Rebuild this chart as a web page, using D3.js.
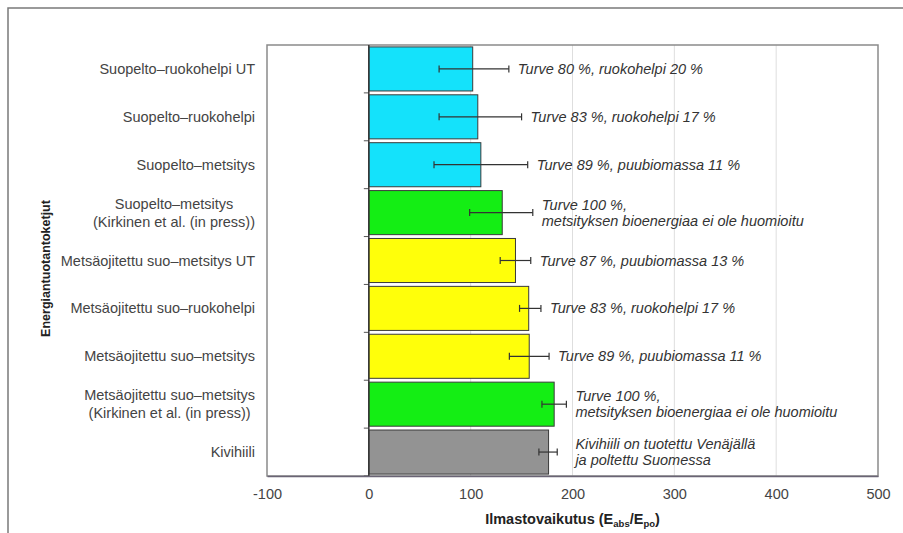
<!DOCTYPE html>
<html>
<head>
<meta charset="utf-8">
<script src="https://cdn.jsdelivr.net/npm/d3@7"></script>
<style>
  html, body { margin: 0; padding: 0; background: #fff; }
  svg { display: block; font-family: "Liberation Sans", Arial, sans-serif; }
</style>
</head>
<body>
<svg id="chart" width="903" height="533"></svg>
<script>
// Energy production chains and their climate impact (E_abs / E_po)
const categories = [
  "Suopelto–ruokohelpi UT",
  "Suopelto–ruokohelpi",
  "Suopelto–metsitys",
  "Suopelto–metsitys\n(Kirkinen et al. (in press))",
  "Metsäojitettu suo–metsitys UT",
  "Metsäojitettu suo–ruokohelpi",
  "Metsäojitettu suo–metsitys",
  "Metsäojitettu suo–metsitys\n(Kirkinen et al. (in press))",
  "Kivihiili"
];
const values   = [102, 107, 110, 131, 144, 157, 157.5, 182, 176.5];
const errLow   = [69, 69, 64, 99, 129, 148, 138, 170, 167];
const errHigh  = [137.5, 150, 156, 161, 159, 169, 177, 194, 185];
const groups   = ["suopelto", "suopelto", "suopelto", "kirkinen",
                  "metsaojitettu", "metsaojitettu", "metsaojitettu", "kirkinen", "kivihiili"];
const notes = [
  "Turve 80 %, ruokohelpi 20 %",
  "Turve 83 %, ruokohelpi 17 %",
  "Turve 89 %, puubiomassa 11 %",
  "Turve 100 %,\nmetsityksen bioenergiaa ei ole huomioitu",
  "Turve 87 %, puubiomassa 13 %",
  "Turve 83 %, ruokohelpi 17 %",
  "Turve 89 %, puubiomassa 11 %",
  "Turve 100 %,\nmetsityksen bioenergiaa ei ole huomioitu",
  "Kivihiili on tuotettu Venäjällä\nja poltettu Suomessa"
];
const xTicks = [-100, 0, 100, 200, 300, 400, 500];

const groupColor = {
  suopelto: "#14e2fb",
  kirkinen: "#14ee14",
  metsaojitettu: "#ffff0a",
  kivihiili: "#939393"
};

const FS = 14.5;
const svg = d3.select("#chart");
const plot = { left: 267, right: 878, top: 45, bottom: 476 };

// outer frame
svg.append("path")
  .attr("d", `M8,533 V8 H903`)
  .attr("fill", "none").attr("stroke", "#7a7a7a").attr("stroke-width", 1.5);

const x = d3.scaleLinear().domain([-100, 500]).range([plot.left, plot.right]);
const y = d3.scaleBand().domain(d3.range(categories.length))
  .range([plot.top, plot.bottom]).paddingInner(0.08).paddingOuter(0.04);
const yb = d3.scaleBand().domain(d3.range(categories.length)).range([plot.top, plot.bottom]);

// gridlines
svg.append("g").selectAll("line")
  .data(xTicks.filter(t => t > 0 && t < 500))
  .join("line")
  .attr("x1", d => x(d)).attr("x2", d => x(d))
  .attr("y1", plot.top).attr("y2", plot.bottom)
  .attr("stroke", "#dedede").attr("stroke-width", 1);

// plot border
svg.append("rect")
  .attr("x", plot.left).attr("y", plot.top)
  .attr("width", plot.right - plot.left).attr("height", plot.bottom - plot.top)
  .attr("fill", "none").attr("stroke", "#8a8a8a").attr("stroke-width", 1.5);

// bars
svg.append("g").selectAll("rect")
  .data(values)
  .join("rect")
  .attr("x", x(0))
  .attr("y", (d, i) => y(i))
  .attr("width", d => x(d) - x(0))
  .attr("height", y.bandwidth())
  .attr("fill", (d, i) => groupColor[groups[i]])
  .attr("stroke", "#3a3a3a").attr("stroke-width", 1);

// zero axis with category ticks
const yAxis = d3.axisLeft(yb).tickSize(5).tickFormat("");
const ya = svg.append("g").attr("transform", `translate(${x(0)},0)`).call(yAxis);
ya.select(".domain").remove();
ya.selectAll(".tick").attr("transform", d => `translate(0,${yb(d) + yb.bandwidth()})`);
ya.selectAll(".tick line").attr("stroke", "#555");
svg.append("line")
  .attr("x1", x(0)).attr("x2", x(0)).attr("y1", plot.top).attr("y2", plot.bottom)
  .attr("stroke", "#333").attr("stroke-width", 1.5);

// bottom axis
const xAxis = d3.axisBottom(x).tickValues(xTicks).tickSize(0).tickPadding(13)
  .tickFormat(d => String(d));
const xa = svg.append("g").attr("transform", `translate(0,${plot.bottom})`).call(xAxis);
xa.select(".domain").attr("stroke", "#6a6475").attr("stroke-width", 1.5);
xa.selectAll("text").attr("font-size", FS).attr("fill", "#444")
  .attr("font-family", "Liberation Sans, Arial, sans-serif");

// error bars
const eb = svg.append("g").attr("stroke", "#333").attr("stroke-width", 1.2);
values.forEach((v, i) => {
  const cy = y(i) + y.bandwidth() / 2;
  eb.append("line").attr("x1", x(errLow[i])).attr("x2", x(errHigh[i])).attr("y1", cy).attr("y2", cy);
  [errLow[i], errHigh[i]].forEach(e =>
    eb.append("line").attr("x1", x(e)).attr("x2", x(e)).attr("y1", cy - 3.5).attr("y2", cy + 3.5));
});

// notes next to the error bars
const last = categories.length - 1;
notes.forEach((n, i) => {
  const lines = n.split("\n");
  const cy = y(i) + y.bandwidth() / 2;
  const nx = (i === last ? x(errHigh[i - 1]) : x(errHigh[i])) + 9;
  const t = svg.append("text")
    .attr("font-size", FS).attr("font-style", "italic").attr("fill", "#333");
  lines.forEach((l, k) => {
    t.append("tspan").attr("x", nx)
      .attr("y", cy + 5 + (k - (lines.length - 1) / 2) * 16)
      .text(l);
  });
});

// category labels
categories.forEach((c, i) => {
  const lines = c.split("\n");
  const cy = yb(i) + yb.bandwidth() / 2;
  const t = svg.append("text").attr("font-size", FS).attr("fill", "#444");
  const spans = lines.map((l, k) => t.append("tspan")
    .attr("y", cy + 5 + (k - (lines.length - 1) / 2) * 18).text(l));
  if (lines.length === 1) {
    t.attr("text-anchor", "end");
    spans.forEach(s => s.attr("x", 255));
  } else {
    const w = d3.max(spans, s => s.node().getComputedTextLength());
    t.attr("text-anchor", "middle");
    spans.forEach(s => s.attr("x", 255 - w / 2));
  }
});

// axis titles
svg.append("text")
  .attr("transform", `translate(50,${(plot.top + plot.bottom) / 2 + 8}) rotate(-90)`)
  .attr("text-anchor", "middle").attr("font-size", 12.5).attr("font-weight", "bold").attr("fill", "#222")
  .text("Energiantuotantoketjut");

const xt = svg.append("text")
  .attr("x", (plot.left + plot.right) / 2).attr("y", 524)
  .attr("text-anchor", "middle").attr("font-size", FS).attr("font-weight", "bold").attr("fill", "#222");
xt.append("tspan").text("Ilmastovaikutus (E");
xt.append("tspan").attr("font-size", 9.5).attr("dy", 3).text("abs");
xt.append("tspan").attr("dy", -3).text("/E");
xt.append("tspan").attr("font-size", 9.5).attr("dy", 3).text("po");
xt.append("tspan").attr("dy", -3).text(")");
</script>
</body>
</html>
